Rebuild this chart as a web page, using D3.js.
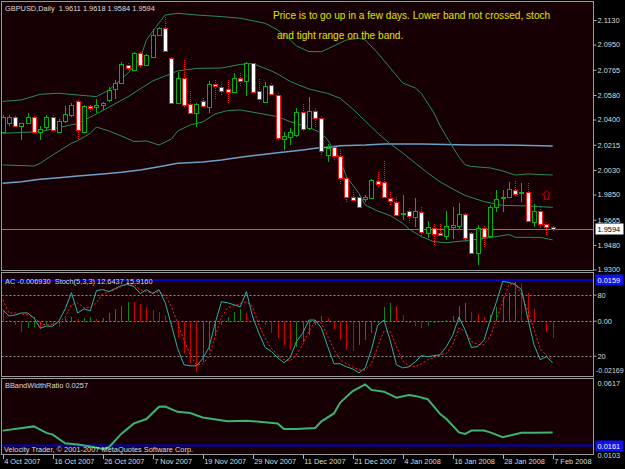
<!DOCTYPE html>
<html>
<head>
<meta charset="utf-8">
<script src="https://cdn.jsdelivr.net/npm/d3@7"></script>
<style>
  body { margin: 0; background: #000; }
  svg { display: block; font-family: "Liberation Sans", Arial, sans-serif; }
</style>
</head>
<body>
<svg width="625" height="469"></svg>
<script>
// GBPUSD daily candles, 4 Oct 2007 .. 7 Feb 2008 (bar index 0..88)
const opens = [2.0311,2.0372,2.0416,2.0353,2.0372,2.0416,2.0309,2.0348,2.0421,2.0311,
  2.0392,2.0433,2.0536,2.0311,2.0502,2.0490,2.0504,2.0544,2.0627,2.0671,
  2.0800,2.0764,2.0886,2.0800,2.0856,2.1018,2.1069,2.0849,2.0519,2.0702,
  2.0514,2.0446,2.0536,2.0495,2.0658,2.0641,2.0622,2.0605,2.0702,2.0683,
  2.0812,2.0612,2.0531,2.0651,2.0580,2.0257,2.0274,2.0287,2.0456,2.0336,
  2.0463,2.0409,2.0140,2.0197,2.0133,1.9969,1.9834,1.9830,1.9817,1.9822,
  1.9952,1.9944,1.9827,1.9798,1.9705,1.9729,1.9683,1.9724,1.9570,1.9607,
  1.9566,1.9546,1.9614,1.9619,1.9705,1.9566,1.9423,1.9607,1.9546,1.9756,
  1.9822,1.9834,1.9883,1.9859,1.9866,1.9646,1.9732,1.9634,1.9611];
const highs = [2.0433,2.0433,2.0426,2.0377,2.0446,2.0426,2.0353,2.0433,2.0433,2.0402,
  2.0502,2.0519,2.0544,2.0507,2.0507,2.0551,2.0531,2.0636,2.0690,2.0825,
  2.0817,2.0893,2.0898,2.0878,2.1062,2.1077,2.1155,2.0856,2.0751,2.0837,
  2.0612,2.0519,2.0556,2.0685,2.0690,2.0678,2.0690,2.0739,2.0739,2.0825,
  2.0817,2.0695,2.0673,2.0666,2.0595,2.0311,2.0338,2.0485,2.0514,2.0568,
  2.0485,2.0426,2.0221,2.0213,2.0182,1.9981,1.9883,1.9847,1.9847,1.9962,
  2.0018,2.0098,1.9871,1.9834,1.9847,1.9749,1.9822,1.9756,1.9658,1.9634,
  1.9634,1.9732,1.9756,1.9786,1.9712,1.9578,1.9627,1.9619,1.9773,1.9883,
  1.9883,1.9944,1.9952,1.9937,1.9932,1.9781,1.9756,1.9651,1.9618];
const lows = [2.0299,2.0353,2.0336,2.0250,2.0367,2.0304,2.0250,2.0323,2.0316,2.0304,
  2.0377,2.0421,2.0250,2.0304,2.0446,2.0446,2.0470,2.0531,2.0553,2.0666,
  2.0764,2.0759,2.0776,2.0795,2.0849,2.1013,2.0886,2.0514,2.0514,2.0495,
  2.0433,2.0348,2.0482,2.0446,2.0544,2.0580,2.0519,2.0592,2.0636,2.0573,
  2.0597,2.0526,2.0519,2.0580,2.0250,2.0177,2.0213,2.0272,2.0309,2.0323,
  2.0338,2.0140,2.0091,2.0103,1.9920,1.9798,1.9798,1.9749,1.9798,1.9815,
  1.9896,1.9822,1.9773,1.9693,1.9663,1.9643,1.9614,1.9546,1.9529,1.9480,
  1.9546,1.9517,1.9522,1.9590,1.9504,1.9419,1.9333,1.9463,1.9536,1.9724,
  1.9724,1.9822,1.9834,1.9798,1.9639,1.9614,1.9602,1.9546,1.9584];
const closes = [2.0416,2.0416,2.0353,2.0372,2.0416,2.0309,2.0328,2.0421,2.0323,2.0392,
  2.0441,2.0507,2.0323,2.0502,2.0487,2.0507,2.0519,2.0617,2.0671,2.0808,
  2.0776,2.0886,2.0798,2.0874,2.1020,2.1069,2.0903,2.0524,2.0702,2.0507,
  2.0446,2.0514,2.0502,2.0661,2.0646,2.0612,2.0605,2.0702,2.0683,2.0817,
  2.0605,2.0551,2.0649,2.0588,2.0265,2.0279,2.0311,2.0456,2.0333,2.0463,
  2.0409,2.0172,2.0189,2.0133,1.9969,1.9830,1.9810,1.9761,1.9834,1.9957,
  1.9927,1.9834,1.9803,1.9700,1.9717,1.9693,1.9732,1.9578,1.9610,1.9558,
  1.9551,1.9619,1.9627,1.9707,1.9529,1.9423,1.9602,1.9541,1.9756,1.9815,
  1.9830,1.9888,1.9854,1.9866,1.9656,1.9729,1.9634,1.9610,1.9594];

// Bollinger bands and long moving average, read at sample bars
const upperIdx = [0,3,6,9,12,15,17,20,22,23,25,26,28,31,35,38,42,44,46,47,49,51,53,55,57,58,60,62,64,66,67,69,70,71,72,73,74,75,78,80,82,84,88];
const upperVal = [2.0533,2.0544,2.0585,2.0593,2.0580,2.0568,2.0617,2.0739,2.0849,2.0984,2.1108,2.1167,2.1179,2.1167,2.1155,2.1143,2.1106,2.1057,2.0984,2.0940,2.0898,2.0898,2.0940,2.0984,2.0996,2.0984,2.0888,2.0778,2.0668,2.0632,2.0591,2.0448,2.0353,2.0274,2.0199,2.0125,2.0067,2.0056,2.0045,2.0023,1.9993,2.0001,1.9993];
const middleIdx = [0,6,12,15,20,24,28,31,35,38,40,43,44,46,49,52,54,56,58,60,62,64,66,68,70,72,74,77,80,84,88];
const middleVal = [2.0299,2.0311,2.0371,2.0441,2.0566,2.0683,2.0756,2.0775,2.0778,2.0804,2.0811,2.0756,2.0734,2.0679,2.0624,2.0591,2.0556,2.0478,2.0389,2.0301,2.0221,2.0155,2.0081,2.0008,1.9942,1.9891,1.9843,1.9798,1.9770,1.9766,1.9756];
const lowerIdx = [0,5,6,8,11,12,14,15,17,19,21,23,25,27,28,30,32,34,36,38,41,44,46,49,51,52,54,55,57,58,60,62,64,65,67,69,71,74,76,79,81,82,86,88];
const lowerVal = [2.0067,2.0059,2.0079,2.0140,2.0226,2.0245,2.0299,2.0345,2.0316,2.0279,2.0239,2.0243,2.0213,2.0257,2.0316,2.0360,2.0382,2.0441,2.0466,2.0470,2.0446,2.0421,2.0384,2.0342,2.0301,2.0250,2.0103,1.9981,1.9859,1.9773,1.9729,1.9696,1.9639,1.9597,1.9541,1.9504,1.9497,1.9511,1.9522,1.9541,1.9557,1.9536,1.9536,1.9517];
const maIdx = [0,3,6,9,12,16,19,22,25,28,32,35,38,41,44,48,50,53,54,58,61,67,75,80,88];
const maVal = [1.9933,1.9944,1.9962,1.9973,1.9986,2.0001,2.0013,2.0030,2.0054,2.0079,2.0088,2.0103,2.0123,2.0140,2.0157,2.0177,2.0189,2.0201,2.0208,2.0213,2.0221,2.0221,2.0213,2.0213,2.0206];

// Accelerator oscillator and Stochastic(5,3,3)
const acValues = [0.0042,0.0003,-0.0017,-0.0043,-0.0030,-0.0023,-0.0031,-0.0017,-0.0021,-0.0026,
  0.0009,0.0016,0.0008,0.0011,0.0014,0.0007,0.0009,0.0029,0.0044,0.0057,
  0.0074,0.0072,0.0064,0.0052,0.0042,0.0034,0.0022,-0.0023,-0.0062,-0.0127,
  -0.0167,-0.0199,-0.0160,-0.0114,-0.0056,-0.0017,0.0016,0.0035,0.0044,0.0029,
  0.0016,0.0003,-0.0017,-0.0049,-0.0069,-0.0095,-0.0114,-0.0104,-0.0082,-0.0056,
  -0.0017,0.0018,0.0009,-0.0034,-0.0075,-0.0114,-0.0117,-0.0095,-0.0075,-0.0049,
  -0.0010,0.0052,0.0068,0.0057,0.0022,-0.0010,-0.0021,-0.0030,-0.0021,-0.0010,
  -0.0004,0.0003,0.0018,0.0057,0.0070,0.0035,0.0026,0.0016,0.0022,0.0052,
  0.0094,0.0107,0.0152,0.0146,0.0107,0.0044,-0.0005,-0.0043,-0.0069];
const stochMain = [65,59,60,62,62,57,47,49,49,54,
  66,82,62,66,64,84,85,83,86,89,
  90,88,81,85,81,85,72,50,27,11,
  10,10,17,28,52,73,72,70,68,83,
  58,42,28,24,18,13,18,34,42,55,
  55,47,29,12,12,9,7,3,8,26,
  50,55,35,11,8,9,14,20,19,20,
  21,29,40,58,45,28,29,35,55,73,
  93,92,90,85,57,31,16,19,13];
const stochSignal = [75,62,62,61,60,58,52,50,51,52,
  58,70,72,67,68,72,81,83,85,88,
  91,90,85,83,82,83,79,68,52,35,
  21,11,12,19,39,58,67,69,71,73,
  68,50,37,27,21,16,15,21,31,44,
  54,52,39,26,16,12,9,6,6,12,
  29,44,44,29,15,10,9,12,16,18,
  21,22,31,47,44,34,31,31,39,55,
  73,90,91,80,65,46,27,20,16];

// Bollinger band width ratio, read at sample bars
const bbwIdx = [0,5,7,8,10,12,14,16,17,19,21,23,25,26,28,30,32,36,39,44,45,47,50,51,53,54,56,58,59,61,63,65,66,68,70,71,73,74,75,77,78,80,81,83,85,88];
const bbwVal = [0.0271,0.0302,0.0254,0.0242,0.0178,0.0169,0.0154,0.0137,0.0149,0.0249,0.0324,0.0356,0.0446,0.0448,0.0409,0.0400,0.0368,0.0339,0.0344,0.0324,0.0283,0.0283,0.0290,0.0339,0.0397,0.0477,0.0562,0.0610,0.0570,0.0557,0.0513,0.0533,0.0526,0.0502,0.0392,0.0356,0.0258,0.0247,0.0271,0.0271,0.0258,0.0222,0.0234,0.0256,0.0256,0.0257];

const dateTicks = [0,8,16,24,32,40,48,56,64,72,80,88];
const dateLabels = ["4 Oct 2007","16 Oct 2007","26 Oct 2007","7 Nov 2007","19 Nov 2007","29 Nov 2007",
  "11 Dec 2007","21 Dec 2007","4 Jan 2008","16 Jan 2008","28 Jan 2008","7 Feb 2008"];
const priceTicks = [2.1130,2.0950,2.0765,2.0580,2.0400,2.0215,2.0030,1.9850,1.9665,1.9480,1.9300];
const bidPrice = 1.9594;
const acLine = 0.0159, bbwLine = 0.0161;
const arrowBar = 87, arrowPrice = 1.9847;

const svg = d3.select("svg");
const fontSize = 7.4;
const textCol = "#dcdcdc";
const right = 593.5;

// scales
const x = d3.scaleLinear().domain([0, 88]).range([2.7, 552.7]);
const yP = d3.scaleLinear().domain([1.9300, 2.1130]).range([269.5, 20]);
const yS = d3.scaleLinear().domain([0, 100]).range([376, 274.3]);
const yAC = d3.scaleLinear().domain([-0.02169, 0.0159]).range([376.2, 280]);
const yB = d3.scaleLinear().domain([0.0103, 0.0617]).range([453.5, 383.5]);
const cx = i => Math.round(x(i)) + 0.5;
const snap = v => Math.round(v) + 0.5;

// panels
const panels = [
  { id: "pMain", y0: 1.5, y1: 270.5 },
  { id: "pInd1", y0: 272.5, y1: 376.5 },
  { id: "pInd2", y0: 378.5, y1: 454.5 }
];
const defs = svg.append("defs");
panels.forEach(p => {
  defs.append("clipPath").attr("id", p.id + "c")
    .append("rect").attr("x", 1.5).attr("y", p.y0).attr("width", right - 1.5).attr("height", p.y1 - p.y0);
  svg.append("rect").attr("x", 1.5).attr("y", p.y0).attr("width", right - 1.5).attr("height", p.y1 - p.y0)
    .attr("fill", "#160004");
});
const gMain = svg.append("g").attr("clip-path", "url(#pMainc)");
const g1 = svg.append("g").attr("clip-path", "url(#pInd1c)");
const g2 = svg.append("g").attr("clip-path", "url(#pInd2c)");

// ---- main panel ----
const pts = (idx, val) => d3.zip(idx, val);
const priceLine = d3.line().x(d => x(d[0])).y(d => yP(d[1]));

gMain.append("path").datum(pts(maIdx, maVal)).attr("d", priceLine)
  .attr("fill", "none").attr("stroke", "#6e9fc6").attr("stroke-width", 1.5);
[[upperIdx, upperVal], [middleIdx, middleVal], [lowerIdx, lowerVal]].forEach(([a, b]) => {
  gMain.append("path").datum(pts(a, b)).attr("d", priceLine)
    .attr("fill", "none").attr("stroke", "#2a8a5a").attr("stroke-width", 1);
});
gMain.append("line").attr("x1", 1.5).attr("x2", right)
  .attr("y1", snap(yP(bidPrice))).attr("y2", snap(yP(bidPrice)))
  .attr("stroke", "#5f8296").attr("stroke-width", 1);

const bars = opens.map((o, i) => ({ i, o, h: highs[i], l: lows[i], c: closes[i], up: closes[i] >= o }));
const bullCol = "#00b400", bearCol = "#ff1010";

gMain.selectAll("line.wick").data(bars).join("line")
  .attr("class", "wick")
  .attr("x1", d => cx(d.i)).attr("x2", d => cx(d.i))
  .attr("y1", d => Math.round(yP(d.h))).attr("y2", d => Math.round(yP(d.l)))
  .attr("stroke", d => d.up ? bullCol : bearCol)
  .attr("stroke-dasharray", d => d.up ? null : "1,1");

gMain.selectAll("rect.body").data(bars).join("rect")
  .attr("class", "body")
  .attr("x", d => cx(d.i) - 2)
  .attr("y", d => snap(yP(Math.max(d.o, d.c))))
  .attr("width", 4)
  .attr("height", d => Math.max(1, Math.round(yP(Math.min(d.o, d.c))) - Math.round(yP(Math.max(d.o, d.c)))))
  .attr("fill", d => d.up ? "#000" : "#fff")
  .attr("stroke", d => d.up ? bullCol : bearCol);

// hollow up-arrow object
gMain.append("path")
  .attr("transform", `translate(${cx(arrowBar)},${Math.round(yP(arrowPrice))})`)
  .attr("d", "M0,-4.5L4,0L2,0L2,4.5L-2,4.5L-2,0L-4,0Z")
  .attr("fill", "none").attr("stroke", "#b40000").attr("stroke-width", 1);

// ---- indicator panel 1 ----
[yS(80), yAC(0), yS(20)].forEach(v => {
  g1.append("line").attr("x1", 1.5).attr("x2", right).attr("y1", snap(v)).attr("y2", snap(v))
    .attr("stroke", "#8a8a8a").attr("stroke-dasharray", "2,2");
});
g1.selectAll("line.ac").data(acValues).join("line")
  .attr("class", "ac")
  .attr("x1", (d, i) => cx(i)).attr("x2", (d, i) => cx(i))
  .attr("y1", snap(yAC(0))).attr("y2", d => Math.round(yAC(d)))
  .attr("stroke", (d, i) => (i > 0 && d > acValues[i - 1]) ? "#0a8a0a" : "#cc0000");
g1.append("line").attr("x1", 1.5).attr("x2", right)
  .attr("y1", yAC(acLine)).attr("y2", yAC(acLine))
  .attr("stroke", "#0000c8").attr("stroke-width", 2);
const stLine = d3.line().x((d, i) => x(i)).y(d => yS(d));
g1.append("path").datum(stochSignal).attr("d", stLine)
  .attr("fill", "none").attr("stroke", "#ff2020").attr("stroke-dasharray", "2,2");
g1.append("path").datum(stochMain).attr("d", stLine)
  .attr("fill", "none").attr("stroke", "#2fb0a6").attr("stroke-width", 1);

// ---- indicator panel 2 ----
g2.append("line").attr("x1", 1.5).attr("x2", right)
  .attr("y1", yB(bbwLine)).attr("y2", yB(bbwLine))
  .attr("stroke", "#0000c8").attr("stroke-width", 2);
g2.append("path").datum(pts(bbwIdx, bbwVal))
  .attr("d", d3.line().x(d => x(d[0])).y(d => yB(d[1])))
  .attr("fill", "none").attr("stroke", "#3cb371").attr("stroke-width", 2);

// panel borders
panels.forEach(p => {
  svg.append("rect").attr("x", 1.5).attr("y", p.y0).attr("width", right - 1.5).attr("height", p.y1 - p.y0)
    .attr("fill", "none").attr("stroke", "#9a9a9a");
});

// ---- axes ----
function styleAxis(g) {
  g.select(".domain").remove();
  g.selectAll(".tick line").attr("stroke", "#b0b0b0");
  g.selectAll(".tick text").attr("fill", textCol).attr("font-size", fontSize)
    .attr("font-family", "Liberation Sans, Arial, sans-serif");
}
svg.append("g").attr("transform", `translate(${right},0)`)
  .call(d3.axisRight(yP).tickValues(priceTicks).tickFormat(d3.format(".4f")).tickSize(3).tickPadding(1))
  .call(styleAxis);
svg.append("g").attr("transform", `translate(${right},0)`)
  .call(d3.axisRight(yS).tickValues([80, 20]).tickFormat(d3.format("d")).tickSize(3).tickPadding(1))
  .call(styleAxis);
svg.append("g").attr("transform", `translate(${right},0)`)
  .call(d3.axisRight(yAC).tickValues([0]).tickFormat(d3.format(".2f")).tickSize(3).tickPadding(1))
  .call(styleAxis);
svg.append("text").attr("x", right + 2.5).attr("y", yAC(-0.02169) - 6 + 2.5)
  .attr("fill", textCol).attr("font-size", 7).text("-0.02169");
svg.append("text").attr("x", right + 4).attr("y", yB(0.0617) + 2.5)
  .attr("fill", textCol).attr("font-size", fontSize).text("0.0617");
svg.append("text").attr("x", right + 4).attr("y", 458)
  .attr("fill", textCol).attr("font-size", fontSize).text("0.0103");

// value boxes on the right scale
function valueBox(y, label, fill, col) {
  svg.append("rect").attr("x", right + 2).attr("y", Math.round(y) - 5.5).attr("width", 28).attr("height", 11)
    .attr("fill", fill);
  svg.append("text").attr("x", right + 4).attr("y", Math.round(y) + 2.6)
    .attr("fill", col).attr("font-size", fontSize).text(label);
}
valueBox(yP(bidPrice), d3.format(".4f")(bidPrice), "#ffffff", "#000");
valueBox(yAC(acLine), d3.format(".4f")(acLine), "#1010f0", "#fff");
valueBox(yB(bbwLine), d3.format(".4f")(bbwLine), "#1010f0", "#fff");

// bottom date axis
const xa = svg.append("g").attr("transform", "translate(0,455)")
  .call(d3.axisBottom(x).tickValues(dateTicks).tickFormat((d, k) => dateLabels[k]).tickSize(4).tickPadding(1));
xa.select(".domain").remove();
xa.selectAll(".tick line").attr("stroke", "#b0b0b0").attr("transform", "translate(0.3,0)");
xa.selectAll(".tick text").attr("text-anchor", "start").attr("x", 1).attr("y", 3.3)
  .attr("fill", textCol).attr("font-size", fontSize).attr("font-family", "Liberation Sans, Arial, sans-serif");

// ---- texts ----
const label = (tx, ty, s, opts = {}) => svg.append("text").attr("x", tx).attr("y", ty)
  .attr("fill", opts.fill || textCol).attr("font-size", opts.size || fontSize).attr("xml:space", "preserve").text(s);
label(5, 10.5, "GBPUSD,Daily  1.9611 1.9618 1.9584 1.9594");
label(5, 284, "AC -0.006930  Stoch(5,3,3) 12.6437 15.9160");
label(5, 388.3, "BBandWidthRatio 0.0257");
label(4, 451.8, "Velocity Trader, \u00a9 2001-2007 MetaQuotes Software Corp.");
label(273, 18.8, "Price is to go up in a few days. Lower band not crossed, stoch", { fill: "#e2e200", size: 10.1 });
label(277, 38.5, "and tight range on the band.", { fill: "#e2e200", size: 10.1 });
</script>
</body>
</html>
